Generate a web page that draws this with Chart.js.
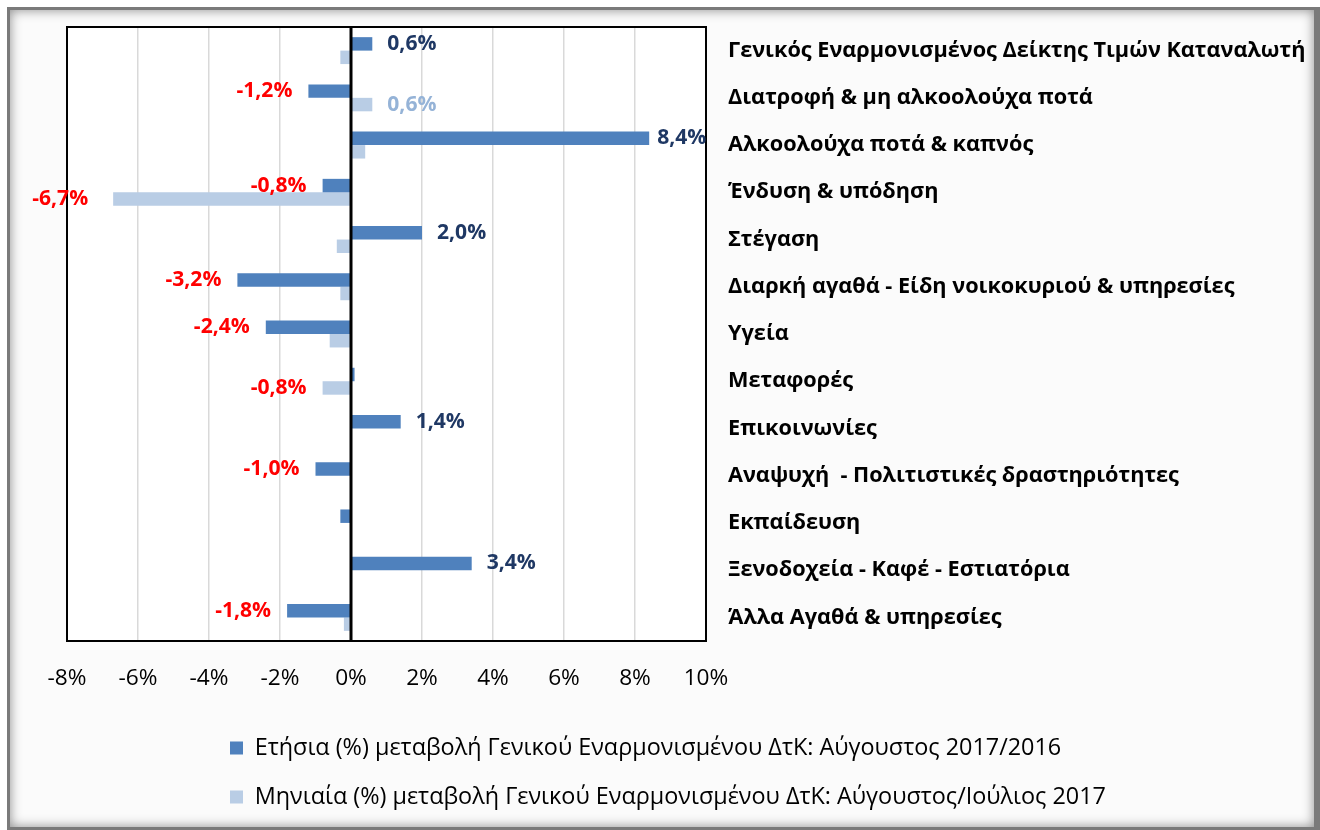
<!DOCTYPE html>
<html lang="el">
<head>
<meta charset="utf-8">
<title>ΕνΔΤΚ Αύγουστος 2017</title>
<script src="https://cdn.jsdelivr.net/npm/chart.js@4.4.1/dist/chart.umd.min.js"></script>
<style>
  html, body { margin: 0; padding: 0; background: #fff; }
  #wrap { position: relative; width: 1320px; height: 830px; overflow: hidden; }
  #frame {
    position: absolute; left: 7px; top: 7px; width: 1313px; height: 823px;
    box-sizing: border-box; border: 3px solid #7a7a7a; border-right-width: 6px;
    background: #fbfbfb; box-shadow: inset 0 0 12px rgba(0, 0, 0, 0.45);
  }
  #chart { position: absolute; left: 0; top: 0; }
</style>
</head>
<body>
<div id="wrap">
  <div id="frame"></div>
  <canvas id="chart" width="1320" height="830"></canvas>
</div>
<script>
// Data
const categories = [
    'Γενικός Εναρμονισμένος Δείκτης Τιμών Καταναλωτή',
    'Διατροφή & μη αλκοολούχα ποτά',
    'Αλκοολούχα ποτά & καπνός',
    'Ένδυση & υπόδηση',
    'Στέγαση',
    'Διαρκή αγαθά - Είδη νοικοκυριού & υπηρεσίες',
    'Υγεία',
    'Μεταφορές',
    'Επικοινωνίες',
    'Αναψυχή  - Πολιτιστικές δραστηριότητες',
    'Εκπαίδευση',
    'Ξενοδοχεία - Καφέ - Εστιατόρια',
    'Άλλα Αγαθά & υπηρεσίες'
];
const annualChange = [0.6, -1.2, 8.4, -0.8, 2.0, -3.2, -2.4, 0.1, 1.4, -1.0, -0.3, 3.4, -1.8];
const monthlyChange = [-0.3, 0.6, 0.4, -6.7, -0.4, -0.3, -0.6, -0.8, 0.0, 0.0, 0.0, 0.03, -0.2];
// which bars carry a value label in the original
const annualShowLabel = [true, true, true, true, true, true, true, false, true, true, false, true, true];
const monthlyShowLabel = [false, true, false, true, false, false, false, true, false, false, false, false, false];
const seriesNames = [
    'Ετήσια (%) μεταβολή Γενικού Εναρμονισμένου ΔτΚ: Αύγουστος 2017/2016',
    'Μηνιαία (%) μεταβολή Γενικού Εναρμονισμένου ΔτΚ: Αύγουστος/Ιούλιος 2017'
];
const xTicks = [-8, -6, -4, -2, 0, 2, 4, 6, 8, 10];

// Styling
const FONT = '"Open Sans", "Noto Sans", sans-serif';
const DARK_BLUE = '#4f81bd';
const LIGHT_BLUE = '#b9cde5';

// pick a font size so a string gets the width it has in the original
function fitSize(text, weight, target) {
    const ctx = document.createElement('canvas').getContext('2d');
    ctx.font = `${weight} 100px ${FONT}`;
    return Math.round(1000 * target / ctx.measureText(text).width) / 10;
}

const catSize = fitSize(categories[0], 'bold', 578);
const tickSize = fitSize('-8%', 'normal', 39);
const legendSize = fitSize(seriesNames[0], 'normal', 807);
const labelSize = fitSize('-3,2%', 'bold', 56);

const legendPad = 49 - legendSize;
const legendTop = 699 + legendSize / 2;

function fmt(v) {
    return v.toFixed(1).replace('.', ',') + '%';
}

// white plot area, black frame, zero line on top and value labels
const plotDecor = {
    id: 'plotDecor',
    beforeDraw(chart) {
        const { ctx, chartArea: a } = chart;
        ctx.save();
        ctx.fillStyle = '#ffffff';
        ctx.fillRect(a.left, a.top, a.right - a.left, a.bottom - a.top);
        ctx.restore();
    },
    afterDatasetsDraw(chart) {
        const { ctx, chartArea: a, scales } = chart;
        ctx.save();
        const x0 = scales.x.getPixelForValue(0);
        ctx.strokeStyle = '#000';
        ctx.lineWidth = 3;
        ctx.beginPath();
        ctx.moveTo(x0, a.top);
        ctx.lineTo(x0, a.bottom);
        ctx.stroke();
        ctx.lineWidth = 2;
        ctx.strokeRect(a.left, a.top, a.right - a.left, a.bottom - a.top);

        ctx.font = `bold ${labelSize}px ${FONT}`;
        ctx.textBaseline = 'middle';
        const flags = [annualShowLabel, monthlyShowLabel];
        const posColors = ['#1f3864', '#95b3d7'];
        chart.data.datasets.forEach((ds, i) => {
            const meta = chart.getDatasetMeta(i);
            meta.data.forEach((bar, j) => {
                if (!flags[i][j]) return;
                const v = ds.data[j];
                if (v >= 0) {
                    ctx.textAlign = 'left';
                    ctx.fillStyle = posColors[i];
                    ctx.fillText(fmt(v), bar.x + (v > 8 ? 8 : 15), bar.y);
                } else {
                    ctx.textAlign = 'right';
                    ctx.fillStyle = '#ff0000';
                    ctx.fillText(fmt(v), bar.x - (v < -6 ? 25 : 16), bar.y);
                }
            });
        });
        ctx.restore();
    }
};

// legend rows start at the same x, like the original
const legendShift = {
    id: 'legendShift',
    afterLayout(chart) {
        chart.legend.left = 230 - legendPad;
    }
};

const chart = new Chart(document.getElementById('chart'), {
    type: 'bar',
    data: {
        labels: categories,
        datasets: [
            {
                label: seriesNames[0],
                data: annualChange,
                backgroundColor: DARK_BLUE,
                borderWidth: 0
            },
            {
                label: seriesNames[1],
                data: monthlyChange,
                backgroundColor: LIGHT_BLUE,
                borderWidth: 0
            }
        ]
    },
    options: {
        indexAxis: 'y',
        responsive: false,
        animation: false,
        devicePixelRatio: 1,
        datasets: {
            bar: {
                barPercentage: 1,
                categoryPercentage: 0.57
            }
        },
        layout: {
            padding: { left: 67, top: 27, right: 0, bottom: 830 - legendTop - (2 * 49 + 10) }
        },
        plugins: {
            tooltip: { enabled: false },
            legend: {
                position: 'bottom',
                align: 'start',
                labels: {
                    color: '#000',
                    font: { family: FONT, size: legendSize },
                    boxWidth: 13,
                    boxHeight: 13,
                    padding: legendPad
                }
            }
        },
        scales: {
            x: {
                min: -8,
                max: 10,
                afterBuildTicks(scale) {
                    scale.ticks = xTicks.map(v => ({ value: v }));
                },
                afterFit(scale) {
                    scale.height = legendTop - 641;
                    scale.paddingLeft = 0;
                    scale.paddingRight = 0;
                },
                ticks: {
                    color: '#000',
                    padding: 24,
                    font: { family: FONT, size: tickSize },
                    callback: v => v + '%'
                },
                grid: {
                    drawTicks: false,
                    color: '#d9d9d9',
                    lineWidth: 1.5
                },
                border: { display: false }
            },
            y: {
                position: 'right',
                afterFit(scale) {
                    scale.width = 1320 - 706;
                    scale.paddingTop = 0;
                    scale.paddingBottom = 0;
                },
                ticks: {
                    color: '#000',
                    padding: 22,
                    autoSkip: false,
                    font: { family: FONT, size: catSize, weight: 'bold' }
                },
                grid: { display: false, drawTicks: false },
                border: { display: false }
            }
        }
    },
    plugins: [plotDecor, legendShift]
});
</script>
</body>
</html>
